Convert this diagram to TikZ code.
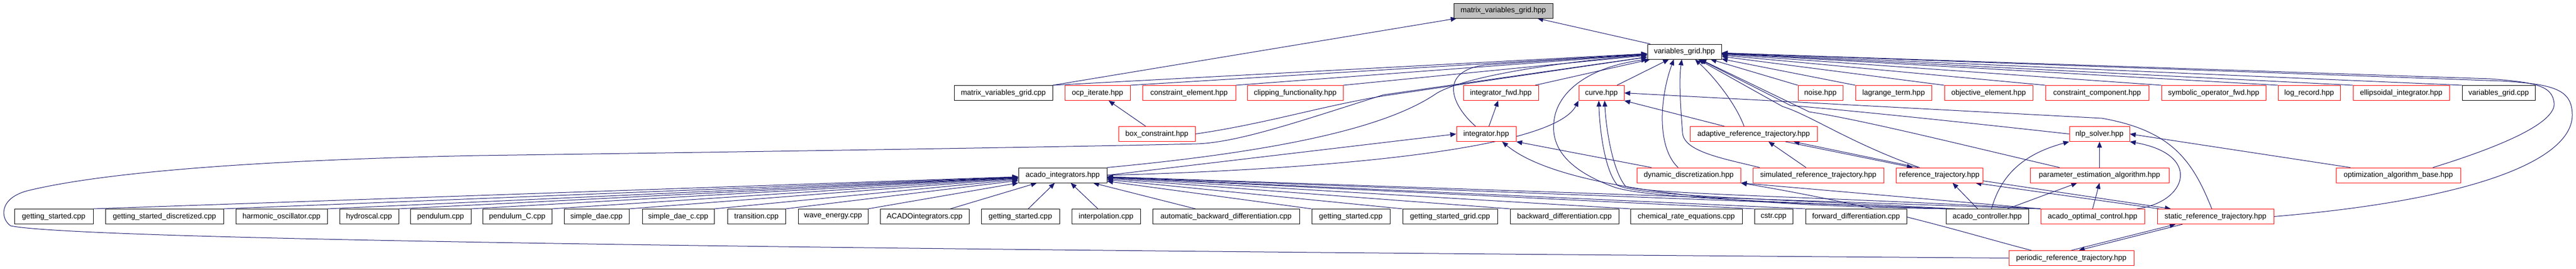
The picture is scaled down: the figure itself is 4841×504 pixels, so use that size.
\documentclass[tikz,border=0pt]{standalone}
\usepackage{fontspec}
\newfontfamily\graphfont{Liberation Sans}
\usetikzlibrary{arrows.meta,backgrounds}
\definecolor{edgeblue}{HTML}{191970}
\definecolor{rootgray}{HTML}{BFBFBF}
\definecolor{truncred}{HTML}{FF0000}
\tikzset{
  filebox/.style={draw=black, fill=white, line width=1pt, minimum height=28, inner xsep=4, inner ysep=0, font=\graphfont\fontsize{14}{16}\selectfont},
  truncbox/.style={filebox, draw=truncred},
  rootbox/.style={filebox, fill=rootgray},
  incl/.style={draw=edgeblue, line width=1pt, ->},
}

\begin{document}
\begin{tikzpicture}[x=1pt, y=-1pt, >={Triangle[length=11pt,width=9pt]}]
  \useasboundingbox (0,0) rectangle (4841,504);

  % Root and its direct includer
  \node[rootbox, minimum width=186] (mvghpp) at (2825,20) {matrix\_variables\_grid.hpp};
  \node[filebox, minimum width=139] (vghpp) at (3165.5,97) {variables\_grid.hpp};

  % Files including variables_grid.hpp
  \node[filebox, minimum width=185] (mvgcpp) at (1885.5,174.5) {matrix\_variables\_grid.cpp};
  \node[truncbox, minimum width=123] (ocpiter) at (2062.5,174.5) {ocp\_iterate.hpp};
  \node[truncbox, minimum width=175] (conselem) at (2234.5,174.5) {constraint\_element.hpp};
  \node[truncbox, minimum width=180] (clipfunc) at (2434,174.5) {clipping\_functionality.hpp};
  \node[truncbox, minimum width=141] (intfwd) at (2820.5,174.5) {integrator\_fwd.hpp};
  \node[truncbox, minimum width=85] (curve) at (3009.5,174.5) {curve.hpp};
  \node[truncbox, minimum width=84] (noise) at (3421,174.5) {noise.hpp};
  \node[truncbox, minimum width=143] (lagterm) at (3558.5,174.5) {lagrange\_term.hpp};
  \node[truncbox, minimum width=166] (objelem) at (3737,174.5) {objective\_element.hpp};
  \node[truncbox, minimum width=194] (conscomp) at (3941,174.5) {constraint\_component.hpp};
  \node[truncbox, minimum width=196] (symopfwd) at (4160,174.5) {symbolic\_operator\_fwd.hpp};
  \node[truncbox, minimum width=117] (logrec) at (4339.5,174.5) {log\_record.hpp};
  \node[truncbox, minimum width=181] (ellint) at (4512.5,174.5) {ellipsoidal\_integrator.hpp};
  \node[filebox, minimum width=137] (vgcpp) at (4695.5,174.5) {variables\_grid.cpp};

  % Next level
  \node[truncbox, minimum width=144] (boxcons) at (2174,251.5) {box\_constraint.hpp};
  \node[truncbox, minimum width=112] (integ) at (2793,251.5) {integrator.hpp};
  \node[truncbox, minimum width=239] (adaptref) at (3295.5,251.5) {adaptive\_reference\_trajectory.hpp};
  \node[truncbox, minimum width=113] (nlpsolver) at (3945.5,251.5) {nlp\_solver.hpp};

  \node[filebox, minimum width=166] (acadoint) at (1997,329) {acado\_integrators.hpp};
  \node[truncbox, minimum width=195] (dyndisc) at (3173.5,329) {dynamic\_discretization.hpp};
  \node[truncbox, minimum width=246] (simref) at (3417,329) {simulated\_reference\_trajectory.hpp};
  \node[truncbox, minimum width=163] (reftraj) at (3644.5,329) {reference\_trajectory.hpp};
  \node[truncbox, minimum width=261] (paramest) at (3945.5,329) {parameter\_estimation\_algorithm.hpp};
  \node[truncbox, minimum width=234] (optalgo) at (4507,329) {optimization\_algorithm\_base.hpp};

  % Examples and bottom row
  \node[filebox, minimum width=148] (gs1) at (101,406.5) {getting\_started.cpp};
  \node[filebox, minimum width=222] (gsdisc) at (309,406.5) {getting\_started\_discretized.cpp};
  \node[filebox, minimum width=172] (harmosc) at (529,406.5) {harmonic\_oscillator.cpp};
  \node[filebox, minimum width=111] (hydro) at (693.5,406.5) {hydroscal.cpp};
  \node[filebox, minimum width=114] (pend) at (828,406.5) {pendulum.cpp};
  \node[filebox, minimum width=130] (pendC) at (972,406.5) {pendulum\_C.cpp};
  \node[filebox, minimum width=122] (sdae) at (1121,406.5) {simple\_dae.cpp};
  \node[filebox, minimum width=135] (sdaec) at (1274.5,406.5) {simple\_dae\_c.cpp};
  \node[filebox, minimum width=109] (trans) at (1421.5,406.5) {transition.cpp};
  \node[filebox, minimum width=131] (wave) at (1565.5,406.5) {wave\_energy.cpp};
  \node[filebox, minimum width=167] (acadointcpp) at (1737.5,406.5) {ACADOintegrators.cpp};
  \node[filebox, minimum width=147] (gs2) at (1917.5,406.5) {getting\_started.cpp};
  \node[filebox, minimum width=129] (interp) at (2078.5,406.5) {interpolation.cpp};
  \node[filebox, minimum width=276] (autobwd) at (2304,406.5) {automatic\_backward\_differentiation.cpp};
  \node[filebox, minimum width=147] (gs3) at (2538.5,406.5) {getting\_started.cpp};
  \node[filebox, minimum width=178] (gsgrid) at (2725,406.5) {getting\_started\_grid.cpp};
  \node[filebox, minimum width=204] (bwd) at (2940,406.5) {backward\_differentiation.cpp};
  \node[filebox, minimum width=210] (chemrate) at (3169,406.5) {chemical\_rate\_equations.cpp};
  \node[filebox, minimum width=72] (cstr) at (3333,406.5) {cstr.cpp};
  \node[filebox, minimum width=190] (fwd) at (3488,406.5) {forward\_differentiation.cpp};
  \node[filebox, minimum width=155] (ctrl) at (3734.5,406.5) {acado\_controller.hpp};
  \node[truncbox, minimum width=195] (optctrl) at (3932.5,406.5) {acado\_optimal\_control.hpp};
  \node[truncbox, minimum width=219] (staticref) at (4163.5,406.5) {static\_reference\_trajectory.hpp};

  \node[truncbox, minimum width=235] (periodic) at (3892.5,484.5) {periodic\_reference\_trajectory.hpp};

  \begin{scope}[on background layer]
    \fill[white] (0,0) rectangle (4841,504);

    % Into the root
    \draw[incl] (mvgcpp.north east) -- (mvghpp);
    \draw[incl] (vghpp) -- (mvghpp);

    % Into variables_grid.hpp
    \draw[incl] (mvgcpp.north east) -- (vghpp);
    \draw[incl] (ocpiter.north east) -- (vghpp);
    \draw[incl] (conselem.north east) -- (vghpp);
    \draw[incl] (clipfunc.north east) -- (vghpp);
    \draw[incl] (intfwd) -- (vghpp);
    \draw[incl] (curve) -- (vghpp);
    \draw[incl] (noise.north west) -- (vghpp);
    \draw[incl] (lagterm.north west) -- (vghpp);
    \draw[incl] (objelem.north west) -- (vghpp);
    \draw[incl] (conscomp.north west) -- (vghpp);
    \draw[incl] (symopfwd.north west) -- (vghpp);
    \draw[incl] (logrec.north west) -- (vghpp);
    \draw[incl] (ellint.north west) -- (vghpp);
    \draw[incl] (vgcpp.north west) -- (vghpp);

    \draw[incl] (boxcons) -- (ocpiter);
    \draw[incl] (boxcons.east) .. controls (2380,232) and (2480,200) .. (2600,180) -- (vghpp);
    \draw[incl] (integ) -- (intfwd);
    \draw[incl] ([xshift=-20]integ.north) .. controls (2730,200) and (2700,135) .. (2790,122) -- (vghpp);
    \draw[incl] ([xshift=-55]adaptref.north) -- (curve.south east);
    \draw[incl] ([xshift=-18]adaptref.north) .. controls (3262,195) and (3222,145) .. ([xshift=20]vghpp.south);
    \draw[incl] (nlpsolver.west) .. controls (3650,225) and (3450,205) .. (3365,198) -- (vghpp);

    % acado_integrators.hpp upwards
    \draw[incl] (acadoint.east) -- (integ.west);
    \draw[incl] (acadoint.east) .. controls (2500,318) and (2920,280) .. (curve.south west);
    \draw[incl] (acadoint.north east) .. controls (2450,280) and (2620,230) .. (2700,175) .. controls (2760,140) and (2950,115) .. (vghpp);

    % Trajectories and discretization
    \draw[incl] ([xshift=-20]dyndisc.north) .. controls (3112,275) and (3120,180) .. ([xshift=-20]vghpp.south);
    \draw[incl] ([xshift=-70]dyndisc.north) -- (integ.south east);
    \draw[incl] ([xshift=-110]simref.north) .. controls (3240,298) and (3165,285) .. (3162,250) .. controls (3158,200) and (3155,150) .. ([xshift=-5]vghpp.south);
    \draw[incl] ([xshift=-23]simref.north) -- ([xshift=28]adaptref.south);
    \draw[incl] ([xshift=60]adaptref.south) -- ([xshift=-50]reftraj.north);
    \draw[incl] ([xshift=-40]reftraj.north) -- ([xshift=75]adaptref.south);
    \draw[incl] ([xshift=-37]reftraj.north) .. controls (3480,270) and (3400,215) .. (3350,200) -- (vghpp);
    \draw[incl] ([xshift=-75]paramest.north) .. controls (3700,275) and (3500,225) .. (3400,210) -- (vghpp);
    \draw[incl] (paramest) -- (nlpsolver);
    \draw[incl] ([xshift=-90]optalgo.north) -- (nlpsolver.east);
    \draw[incl] ([xshift=65]optalgo.north) .. controls (4700,275) and (4800,232) .. (4800,195) .. controls (4797,162) and (4770,155) .. (4680,148) -- (vghpp);

    % Bottom row into acado_integrators.hpp
    \draw[incl] (gs1.north east) -- (acadoint);
    \draw[incl] (gsdisc.north east) -- (acadoint);
    \draw[incl] (harmosc.north east) -- (acadoint);
    \draw[incl] (hydro.north east) -- (acadoint);
    \draw[incl] (pend.north east) -- (acadoint);
    \draw[incl] (pendC.north east) -- (acadoint);
    \draw[incl] (sdae.north east) -- (acadoint);
    \draw[incl] (sdaec.north east) -- (acadoint);
    \draw[incl] (trans.north east) -- (acadoint);
    \draw[incl] (wave.north east) -- (acadoint);
    \draw[incl] (acadointcpp) -- (acadoint);
    \draw[incl] (gs2) -- (acadoint);
    \draw[incl] (interp) -- (acadoint);
    \draw[incl] (autobwd) -- (acadoint);
    \draw[incl] (gs3.north west) -- (acadoint);
    \draw[incl] (gsgrid.north west) -- (acadoint);
    \draw[incl] (bwd.north west) -- (acadoint);
    \draw[incl] (chemrate.north west) -- (acadoint);
    \draw[incl] (cstr.north west) -- (acadoint);
    \draw[incl] (fwd.north west) -- (acadoint);

    % acado_controller.hpp
    \draw[incl] (ctrl.north west) -- (acadoint);
    \draw[incl] ([xshift=-18]ctrl.north) -- ([xshift=25]reftraj.south);
    \draw[incl] ([xshift=8]ctrl.north) .. controls (3760,330) and (3800,290) .. (nlpsolver.south west);
    \draw[incl] ([xshift=38]ctrl.north) -- ([xshift=-42]paramest.south);
    \draw[incl] ([xshift=-60]ctrl.north) .. controls (3300,372) and (3085,368) .. (3040,348) .. controls (3015,320) and (3006,240) .. ([xshift=-5]curve.south);
    \draw[incl] ([xshift=-70]ctrl.north) .. controls (3100,385) and (2900,330) .. ([xshift=30]integ.south);
    \draw[incl] ([xshift=-75]ctrl.north) .. controls (3300,378) and (3080,370) .. (3030,350) .. controls (2950,320) and (2915,280) .. (2920,230) .. controls (2925,170) and (2990,125) .. (vghpp.south west);

    % acado_optimal_control.hpp
    \draw[incl] (optctrl.north west) -- (acadoint);
    \draw[incl] (optctrl.north) -- (paramest.south);
    \draw[incl] (optctrl.north west) -- (dyndisc.south east);
    \draw[incl] ([xshift=-15]optctrl.north east) .. controls (4110,380) and (4140,290) .. (nlpsolver.south east);
    \draw[incl] (optctrl.north west) .. controls (3400,368) and (3100,365) .. (3055,350) .. controls (3030,320) and (3018,240) .. ([xshift=6]curve.south);

    % static and periodic reference trajectories
    \draw[incl] ([yshift=4]reftraj.south east) -- ([xshift=26]staticref.north west);
    \draw[incl] ([xshift=4]staticref.north west) -- ([xshift=-14]reftraj.south east);
    \draw[incl] ([xshift=-7]staticref.north) .. controls (4120,300) and (4080,245) .. (3950,222) -- (curve.east);
    \draw[incl] (staticref.east) .. controls (4650,375) and (4835,300) .. (4834,215) .. controls (4833,168) and (4800,158) .. (4700,152) -- (vghpp);
    \draw[incl] (periodic.north) -- ([xshift=-75]staticref.south);
    \draw[incl] ([xshift=-62]staticref.south) -- ([xshift=14]periodic.north);
    \draw[incl] ([xshift=-75]periodic.north) .. controls (3700,440) and (3550,390) .. (dyndisc.south east);
    \draw[incl] (periodic.west) .. controls (1500,468) and (150,450) .. (20,424) .. controls (0,410) and (-2,372) .. (52,358) .. controls (200,322) and (500,300) .. (900,292) .. controls (1400,285) and (2000,276) .. (2250,270) .. controls (2330,267) and (2450,225) .. (2600,178) -- (vghpp);
  \end{scope}
\end{tikzpicture}
\end{document}
